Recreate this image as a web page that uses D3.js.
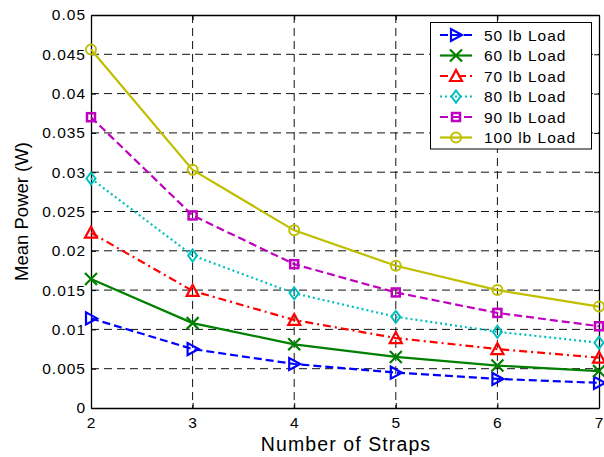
<!DOCTYPE html>
<html>
<head>
<meta charset="utf-8">
<script src="https://cdn.jsdelivr.net/npm/d3@7"></script>
<style>
  html, body { margin: 0; padding: 0; background: #fff; }
  svg { display: block; font-family: Arial, "Liberation Sans", sans-serif; }
</style>
</head>
<body>
<svg id="chart" width="604" height="457"></svg>
<script>
// Number of straps (x) and mean power per load (W)
const straps = [2, 3, 4, 5, 6, 7];
const load50  = [0.0114, 0.0075, 0.0056, 0.0045, 0.0037, 0.0032];
const load60  = [0.0164, 0.0108, 0.0081, 0.0065, 0.0054, 0.0047];
const load70  = [0.0223, 0.0149, 0.0112, 0.0089, 0.0075, 0.0064];
const load80  = [0.0292, 0.0194, 0.0146, 0.0116, 0.0097, 0.0083];
const load90  = [0.0370, 0.0245, 0.0183, 0.0147, 0.0121, 0.0104];
const load100 = [0.0456, 0.0303, 0.0226, 0.0181, 0.0150, 0.0129];
const seriesNames = ["50 lb Load", "60 lb Load", "70 lb Load", "80 lb Load", "90 lb Load", "100 lb Load"];
const yTicks = [0, 0.005, 0.01, 0.015, 0.02, 0.025, 0.03, 0.035, 0.04, 0.045, 0.05];
const yTickLabels = ["0", "0.005", "0.01", "0.015", "0.02", "0.025", "0.03", "0.035", "0.04", "0.045", "0.05"];

const seriesValues = [load50, load60, load70, load80, load90, load100];
const styles = [
  { color: "#0000ff", dash: "8,4",       marker: "tri-right" },
  { color: "#008000", dash: null,        marker: "x" },
  { color: "#ff0000", dash: "8,4,2,4",   marker: "tri-up" },
  { color: "#00bfbf", dash: "2,3",       marker: "diamond" },
  { color: "#bf00bf", dash: "8,4",       marker: "square" },
  { color: "#bfbf00", dash: null,        marker: "circle" }
];

const svg = d3.select("#chart");
const plotL = 91, plotR = 599, plotT = 15, plotB = 408;

const x = d3.scaleLinear().domain([2, 7]).range([plotL, plotR]);
const y = d3.scaleLinear().domain([0, 0.05]).range([plotB, plotT]);

// grid
const grid = svg.append("g");
grid.selectAll("line.gx").data(straps.slice(1, -1)).join("line")
  .attr("x1", d => x(d)).attr("x2", d => x(d))
  .attr("y1", plotT).attr("y2", plotB)
  .attr("stroke", "#111").attr("stroke-width", 1).attr("stroke-dasharray", "8,5");
grid.selectAll("line.gy").data(yTicks.slice(1, -1)).join("line")
  .attr("x1", plotL).attr("x2", plotR)
  .attr("y1", d => y(d)).attr("y2", d => y(d))
  .attr("stroke", "#111").attr("stroke-width", 1).attr("stroke-dasharray", "8,5");

// axes with inward ticks
const axB = svg.append("g").attr("transform", `translate(0,${plotB})`)
  .call(d3.axisBottom(x).tickValues(straps).tickFormat(d3.format("d")).tickSizeInner(-5).tickSizeOuter(0).tickPadding(9));
const axL = svg.append("g").attr("transform", `translate(${plotL},0)`)
  .call(d3.axisLeft(y).tickValues(yTicks).tickFormat((d, i) => yTickLabels[i]).tickSizeInner(-5).tickSizeOuter(0).tickPadding(5));
const axT = svg.append("g").attr("transform", `translate(0,${plotT})`)
  .call(d3.axisTop(x).tickValues(straps).tickFormat("").tickSizeInner(-5).tickSizeOuter(0));
const axR = svg.append("g").attr("transform", `translate(${plotR},0)`)
  .call(d3.axisRight(y).tickValues(yTicks).tickFormat("").tickSizeInner(-5).tickSizeOuter(0));
[axB, axL, axT, axR].forEach(a => {
  a.select(".domain").attr("stroke", "#000").attr("stroke-width", 1.3);
  a.selectAll(".tick line").attr("stroke", "#000");
  a.selectAll(".tick text").attr("fill", "#000")
    .style("font-size", "15.5px").style("letter-spacing", "1px")
    .style("font-family", "Arial, 'Liberation Sans', sans-serif");
});

// axis titles
svg.append("text").attr("x", 346).attr("y", 451)
  .attr("text-anchor", "middle").style("font-size", "19.5px").style("letter-spacing", "1.1px").attr("fill", "#000")
  .text("Number of Straps");
svg.append("text").attr("transform", `translate(28,${(plotT + plotB) / 2}) rotate(-90)`)
  .attr("text-anchor", "middle").style("font-size", "18.5px").attr("fill", "#000")
  .text("Mean Power (W)");

// marker drawing
function drawMarker(g, type, cx, cy, color) {
  const s = 5;
  if (type === "circle") {
    g.append("circle").attr("cx", cx).attr("cy", cy).attr("r", s)
      .attr("fill", "none").attr("stroke", color).attr("stroke-width", 2);
  } else if (type === "square") {
    g.append("rect").attr("x", cx - 4).attr("y", cy - 4).attr("width", 8).attr("height", 8)
      .attr("fill", "none").attr("stroke", color).attr("stroke-width", 2.5);
  } else if (type === "diamond") {
    g.append("path").attr("d", `M${cx},${cy - 6}L${cx + 4.5},${cy}L${cx},${cy + 6}L${cx - 4.5},${cy}Z`)
      .attr("fill", "none").attr("stroke", color).attr("stroke-width", 2);
  } else if (type === "tri-up") {
    g.append("path").attr("d", `M${cx},${cy - 6}L${cx + 6},${cy + 5}L${cx - 6},${cy + 5}Z`)
      .attr("fill", "none").attr("stroke", color).attr("stroke-width", 2.2);
  } else if (type === "tri-right") {
    g.append("path").attr("d", `M${cx + 6},${cy}L${cx - 5},${cy - 6}L${cx - 5},${cy + 6}Z`)
      .attr("fill", "none").attr("stroke", color).attr("stroke-width", 2.2);
  } else if (type === "x") {
    g.append("path").attr("d", `M${cx - 6},${cy - 6}L${cx + 6},${cy + 6}M${cx - 6},${cy + 6}L${cx + 6},${cy - 6}`)
      .attr("fill", "none").attr("stroke", color).attr("stroke-width", 2.2);
  }
}

// series
const line = d3.line().x((d, i) => x(straps[i])).y(d => y(d));
seriesValues.forEach((vals, k) => {
  const st = styles[k];
  const g = svg.append("g");
  g.append("path").datum(vals).attr("d", line)
    .attr("fill", "none").attr("stroke", st.color).attr("stroke-width", 2.2)
    .attr("stroke-dasharray", st.dash);
  vals.forEach((v, i) => drawMarker(g, st.marker, x(straps[i]), y(v), st.color));
});

// legend
const lg = svg.append("g");
lg.append("rect").attr("x", 430.5).attr("y", 22.5).attr("width", 161).attr("height", 126.5)
  .attr("fill", "#fff").attr("stroke", "#000").attr("stroke-width", 1);
seriesNames.forEach((name, k) => {
  const st = styles[k];
  const ry = 35 + k * 20.5;
  const g = lg.append("g");
  g.append("line").attr("x1", 440).attr("x2", 472).attr("y1", ry).attr("y2", ry)
    .attr("stroke", st.color).attr("stroke-width", 2.2).attr("stroke-dasharray", st.dash);
  drawMarker(g, st.marker, 456, ry, st.color);
  g.append("text").attr("x", 484).attr("y", ry + 5.5)
    .style("font-size", "15.5px").style("letter-spacing", "1px").attr("fill", "#000").text(name);
});
</script>
</body>
</html>
